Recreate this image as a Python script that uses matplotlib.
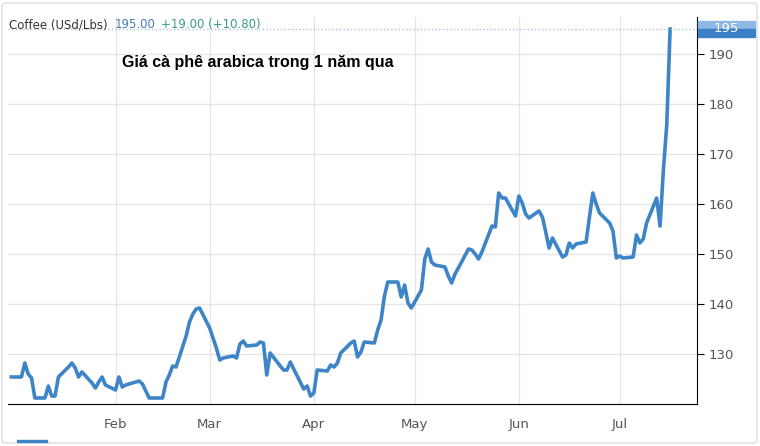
import numpy as np
import pandas as pd
import matplotlib.pyplot as plt
import matplotlib.dates as mdates
from matplotlib.patches import Rectangle, FancyBboxPatch

# arabica coffee close, USd/lb, trading days from early Jan 2021
prices = [125.4, 125.4, 128.2, 126.0, 125.2, 121.2, 121.2, 123.6, 121.6, 121.6,
          125.4, 127.4, 128.2, 127.2, 125.4, 126.4, 124.2, 123.2, 124.4, 125.4,
          123.8, 122.8, 125.4, 123.4, 123.8, 124.0, 124.6, 124.0, 122.6, 121.2,
          121.2, 121.2, 124.4, 125.8, 127.6, 127.4, 133.6, 136.4, 138.0, 139.0,
          139.2, 135.2, 133.2, 131.2, 128.8, 129.2, 129.6, 129.2, 132.0, 132.6,
          131.6, 131.8, 132.4, 132.2, 125.8, 130.2, 127.6, 126.8, 126.8, 128.4,
          127.0, 123.0, 123.6, 121.6, 122.2, 126.8, 126.6, 127.8, 127.4, 128.2,
          130.2, 132.2, 132.6, 129.4, 130.4, 132.4, 132.2, 134.8, 136.8, 141.6,
          144.4, 144.4, 141.4, 143.8, 140.2, 139.2, 142.8, 149.0, 151.0, 148.4,
          147.8, 147.4, 145.6, 144.2, 146.0, 147.2, 151.0, 150.8, 150.0, 149.0,
          150.4, 155.6, 155.4, 162.2, 161.2, 161.2, 157.6, 161.6, 160.2, 158.0,
          157.2, 158.6, 157.4, 154.4, 151.2, 153.2, 149.4, 149.8, 152.2, 151.2,
          152.0, 152.4, 157.4, 162.2, 160.0, 158.2, 156.2, 154.6, 149.2, 149.6,
          149.2, 149.4, 153.8, 152.2, 153.0, 156.2, 161.2, 155.6, 166.8, 175.8,
          195.0]
dates = pd.bdate_range('2021-01-01', periods=len(prices))
month_ticks = pd.to_datetime(['2021-02-01', '2021-03-01', '2021-04-01',
                              '2021-05-01', '2021-06-01', '2021-07-01'])
month_labels = ['Feb', 'Mar', 'Apr', 'May', 'Jun', 'Jul']
y_ticks = [130, 140, 150, 160, 170, 180, 190]
last = prices[-1]

fig = plt.figure(figsize=(7.6, 4.46), dpi=100)
ax = fig.add_axes([8/760, 42/446, 689/760, 387.5/446])

line_col = '#3d85c6'
ax.plot(dates, prices, color=line_col, lw=2.6, solid_joinstyle='round')
ax.axhline(last, color='#a9c4e0', lw=1, ls=':')

ax.set_ylim(120, 197.5)
ax.set_xlim(dates[0] - pd.Timedelta(days=1), dates[-1] + pd.Timedelta(days=8))
ax.yaxis.tick_right()
ax.set_yticks(y_ticks)
ax.set_xticks(month_ticks)
ax.set_xticklabels(month_labels)
ax.grid(True, color='#e6e6e6', lw=1)
ax.tick_params(axis='y', length=5, color='black', labelcolor='#555555', labelsize=9.5, pad=3)
ax.tick_params(axis='x', length=0, labelcolor='#555555', labelsize=9.5, pad=10)
for s in ['top', 'left']:
    ax.spines[s].set_visible(False)
ax.spines['bottom'].set_color('black')
ax.spines['right'].set_color('black')

ax.text(0.002, 0.995, 'Coffee (USd/Lbs)', transform=ax.transAxes, ha='left', va='top',
        fontsize=8.5, color='#333333')
ax.text(0.155, 0.995, '195.00', transform=ax.transAxes, ha='left', va='top',
        fontsize=8.5, color='#4a7ab5')
ax.text(0.222, 0.995, '+19.00 (+10.80)', transform=ax.transAxes, ha='left', va='top',
        fontsize=8.5, color='#3a9a8a')
ax.text(0.165, 0.87, 'Giá cà phê arabica trong 1 năm qua', transform=ax.transAxes,
        fontsize=11.5, fontweight='bold', family='Liberation Sans', color='black')

# last value badge on the axis
fig.patches.append(Rectangle((698/760, (446-29)/446), 57/760, 8/446,
                             transform=fig.transFigure, color='#8fb8e3'))
fig.patches.append(Rectangle((698/760, (446-37)/446), 57/760, 8/446,
                             transform=fig.transFigure, color='#3d7fc6'))
fig.text(726/760, (446-29)/446, '%d' % last, ha='center', va='center',
         color='white', fontsize=9.5)

# frame and stray legend mark
fig.patches.append(FancyBboxPatch((2/760, 3/446), 755/760, 440/446,
                                  boxstyle='round,pad=0,rounding_size=0.006',
                                  transform=fig.transFigure, fill=False,
                                  ec='#dddddd', lw=1))
fig.patches.append(Rectangle((17/760, 441/446 - 1), 30/760, 2/446,
                             transform=fig.transFigure, color=line_col))
fig.patches.append(Rectangle((17/760, 4/446), 30/760, 2/446,
                             transform=fig.transFigure, color=line_col))

fig.savefig('out.png', dpi=100)
